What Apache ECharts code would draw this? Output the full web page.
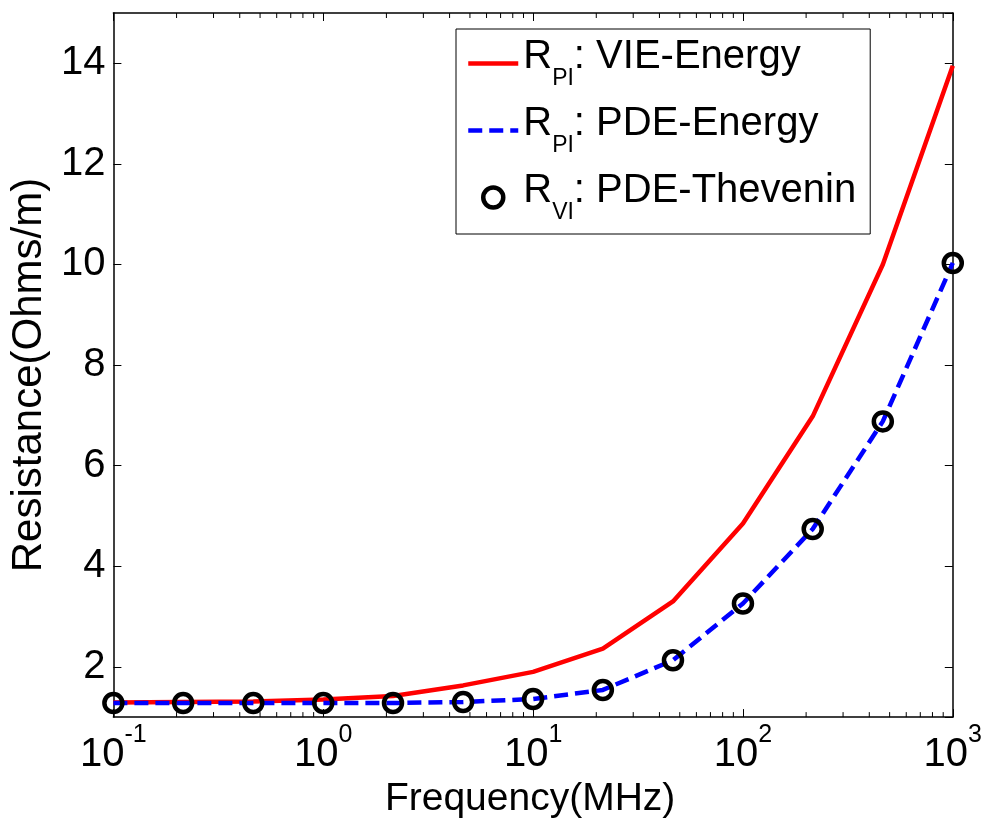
<!DOCTYPE html>
<html>
<head>
<meta charset="utf-8">
<title>Resistance vs Frequency</title>
<script src="https://cdn.jsdelivr.net/npm/echarts@6/dist/echarts.min.js"></script>
<style>
  html, body { margin: 0; padding: 0; background: #ffffff; }
  #chart { width: 985px; height: 824px; }
</style>
</head>
<body>
<div id="chart"></div>
<script>
// Frequency sweep (MHz), three points per decade
const frequencyMHz = [0.1, 0.215, 0.464, 1, 2.15, 4.64, 10, 21.5, 46.4, 100, 215, 464, 1000];

// Per-unit-length resistance (Ohms/m)
const rPiVieEnergy   = [1.29, 1.30, 1.31, 1.35, 1.42, 1.63, 1.90, 2.36, 3.30, 4.85, 6.98, 10.00, 13.95];
const rPiPdeEnergy   = [1.28, 1.28, 1.28, 1.28, 1.28, 1.30, 1.36, 1.54, 2.13, 3.26, 4.74, 6.88, 10.03];
const rViPdeThevenin = [1.28, 1.28, 1.28, 1.28, 1.28, 1.30, 1.36, 1.54, 2.13, 3.26, 4.74, 6.88, 10.03];

// Legend text pieces: symbol, subscript, description
const legendSymbols = ['R', 'R', 'R'];
const legendSubscripts = ['PI', 'PI', 'VI'];
const legendDescriptions = [': VIE-Energy', ': PDE-Energy', ': PDE-Thevenin'];
const seriesNames = legendSymbols.map((s, i) => s + legendSubscripts[i] + legendDescriptions[i]);

// Axis ranges and titles
const xRange = [0.1, 1000];
const yRange = [1, 15];
const xTitle = 'Frequency(MHz)';
const yTitle = 'Resistance(Ohms/m)';

// Log-axis minor tick positions: multipliers within each decade
const minorMultipliers = [2, 3, 4, 5, 6, 7, 8, 9];
const minorDecades = [0.1, 1, 10, 100];

const FONT = '"Liberation Sans", Arial, Helvetica, sans-serif';
const AXIS_COLOR = '#000000';

const pairs = (ys) => frequencyMHz.map((f, i) => [f, ys[i]]);

const minorTickValues = [];
minorDecades.forEach(d => minorMultipliers.forEach(m => minorTickValues.push([+(d * m).toPrecision(3), yRange[0]])));

const chart = echarts.init(document.getElementById('chart'), null, { renderer: 'canvas' });

const baseLogAxis = {
  type: 'log',
  logBase: 10,
  min: xRange[0],
  max: xRange[1],
  axisLine: { show: true, lineStyle: { color: AXIS_COLOR, width: 1.5 } },
  axisTick: { show: true, inside: true, length: 8, lineStyle: { color: AXIS_COLOR, width: 1 } },
  splitLine: { show: false },
  minorTick: { show: false }
};

const baseValueAxis = {
  type: 'value',
  min: yRange[0],
  max: yRange[1],
  splitNumber: 7,
  axisLine: { show: true, lineStyle: { color: AXIS_COLOR, width: 1.5 } },
  axisTick: { show: true, inside: true, length: 8, lineStyle: { color: AXIS_COLOR, width: 1 } },
  splitLine: { show: false }
};

// legend swatch for line series: keep the stroke, hide the marker dot
const hiddenMarker = { color: 'rgba(0,0,0,0)', borderColor: 'rgba(0,0,0,0)', borderWidth: 0 };

const option = {
  animation: false,
  backgroundColor: '#ffffff',
  textStyle: { fontFamily: FONT },
  grid: { left: 110, right: 31, top: 13, bottom: 103, containLabel: false },
  xAxis: [
    Object.assign({}, baseLogAxis, {
      position: 'bottom',
      name: xTitle,
      nameLocation: 'middle',
      nameGap: 55,
      nameTextStyle: { fontSize: 39, color: '#000', fontFamily: FONT, padding: [0, 6, 0, 0] },
      axisLabel: {
        show: true,
        margin: 6,
        color: '#000',
        fontFamily: FONT,
        formatter: (v) => '{b|10}{e|' + Math.round(Math.log10(v)) + '}',
        rich: {
          b: { fontSize: 40, lineHeight: 52, fontFamily: FONT, color: '#000', verticalAlign: 'bottom' },
          e: { fontSize: 25, lineHeight: 25, fontFamily: FONT, color: '#000', verticalAlign: 'top' }
        }
      }
    }),
    Object.assign({}, baseLogAxis, {
      position: 'top',
      axisLabel: { show: false }
    })
  ],
  yAxis: [
    Object.assign({}, baseValueAxis, {
      position: 'left',
      name: yTitle,
      nameLocation: 'middle',
      nameRotate: 90,
      nameGap: 62,
      nameTextStyle: { fontSize: 42, color: '#000', fontFamily: FONT, padding: [0, 20, 0, 0] },
      axisLabel: {
        show: true,
        margin: 8,
        fontSize: 40,
        color: '#000',
        fontFamily: FONT,
        showMinLabel: false,
        showMaxLabel: false
      }
    }),
    Object.assign({}, baseValueAxis, {
      position: 'right',
      axisLabel: { show: false }
    })
  ],
  legend: {
    orient: 'vertical',
    left: 456,
    top: 29,
    padding: [8, 14, 10, 10],
    itemWidth: 50,
    itemHeight: 20,
    itemGap: 14,
    backgroundColor: '#ffffff',
    borderColor: '#000000',
    borderWidth: 1,
    borderRadius: 0,
    selectedMode: false,
    lineStyle: { width: 4.5 },
    data: [
      { name: seriesNames[0], itemStyle: hiddenMarker },
      { name: seriesNames[1], itemStyle: hiddenMarker },
      { name: seriesNames[2], itemStyle: { color: 'rgba(0,0,0,0)', borderColor: '#000', borderWidth: 4.5, opacity: 1 } }
    ],
    formatter: (name) => {
      const i = seriesNames.indexOf(name);
      return '{m|' + legendSymbols[i] + '}{s|' + legendSubscripts[i] + '}{m|' + legendDescriptions[i] + '}';
    },
    textStyle: {
      color: '#000',
      fontFamily: FONT,
      rich: {
        m: { fontSize: 40, lineHeight: 53, fontFamily: FONT, color: '#000', verticalAlign: 'top' },
        s: { fontSize: 23, lineHeight: 23, fontFamily: FONT, color: '#000', verticalAlign: 'bottom' }
      }
    }
  },
  series: [
    {
      name: seriesNames[0],
      type: 'line',
      xAxisIndex: 0,
      yAxisIndex: 0,
      data: pairs(rPiVieEnergy),
      symbol: 'none',
      z: 2,
      lineStyle: { color: '#ff0000', width: 4.5, type: 'solid' },
      itemStyle: { color: '#ff0000' }
    },
    {
      name: seriesNames[1],
      type: 'line',
      xAxisIndex: 0,
      yAxisIndex: 0,
      data: pairs(rPiPdeEnergy),
      symbol: 'none',
      z: 3,
      lineStyle: { color: '#0000ff', width: 4.5, type: [14, 7] },
      itemStyle: { color: '#0000ff' }
    },
    {
      name: seriesNames[2],
      type: 'scatter',
      xAxisIndex: 0,
      yAxisIndex: 0,
      data: pairs(rViPdeThevenin),
      symbol: 'circle',
      symbolSize: 18,
      z: 4,
      itemStyle: { color: 'rgba(0,0,0,0)', borderColor: '#000000', borderWidth: 4.5, opacity: 1 }
    },
    {
      // minor ticks of the logarithmic frequency axis, bottom and top edges
      type: 'custom',
      xAxisIndex: 0,
      yAxisIndex: 0,
      silent: true,
      z: 5,
      data: minorTickValues,
      renderItem: (params, api) => {
        const f = api.value(0);
        const bottom = api.coord([f, yRange[0]]);
        const top = api.coord([f, yRange[1]]);
        const st = { stroke: AXIS_COLOR, lineWidth: 1 };
        return {
          type: 'group',
          children: [
            { type: 'line', shape: { x1: bottom[0], y1: bottom[1], x2: bottom[0], y2: bottom[1] - 5 }, style: st },
            { type: 'line', shape: { x1: top[0], y1: top[1], x2: top[0], y2: top[1] + 5 }, style: st }
          ]
        };
      }
    }
  ]
};

chart.setOption(option);
</script>
</body>
</html>
